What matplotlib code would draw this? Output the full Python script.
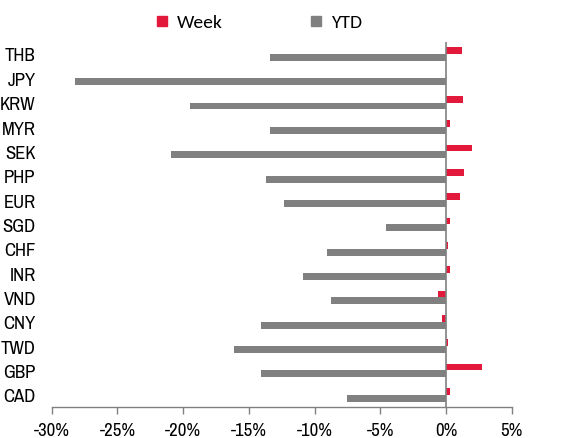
import matplotlib
matplotlib.use("Agg")
import matplotlib.pyplot as plt
import numpy as np
from matplotlib.lines import Line2D

categories = ["THB", "JPY", "KRW", "MYR", "SEK", "PHP", "EUR", "SGD",
              "CHF", "INR", "VND", "CNY", "TWD", "GBP", "CAD"]
week = [1.2, 0.0, 1.27, 0.3, 2.0, 1.34, 1.04, 0.3, 0.18, 0.28, -0.63, -0.3, 0.15, 2.73, 0.33]
ytd = [-13.4, -28.2, -19.5, -13.4, -20.9, -13.7, -12.35, -4.55, -9.04, -10.9,
       -8.73, -14.1, -16.1, -14.1, -7.54]
xticks = [-30, -25, -20, -15, -10, -5, 0, 5]
xticklabels = ["-30%", "-25%", "-20%", "-15%", "-10%", "-5%", "0%", "5%"]

RED = "#E3193B"
GRAY = "#808080"

fig = plt.figure(figsize=(5.82, 4.39), dpi=100)
ax = fig.add_axes([51.7 / 582, 1 - 408 / 439, (511.7 - 51.7) / 582, (408 - 42.8) / 439])

y = np.arange(len(categories))
h = 0.28
ax.barh(y - h / 2, week, height=h, color=RED, zorder=2)
ax.barh(y + h / 2, ytd, height=h, color=GRAY, zorder=2)

ax.set_ylim(len(categories) - 0.5, -0.5)
ax.set_xlim(-30, 5)
ax.axvline(0, color="#808080", lw=1.2, zorder=3)

narrow = ["Archivo Narrow", "PT Sans Narrow", "Liberation Sans", "DejaVu Sans"]
ax.set_yticks(y)
ax.set_yticklabels(categories, family=narrow, fontsize=13.5)
ax.set_xticks(xticks)
ax.set_xticklabels(xticklabels, family=narrow, fontsize=13.5)
ax.tick_params(axis="y", length=0, pad=11.5)
ax.tick_params(axis="x", direction="out", length=5, color="#808080", width=1, pad=6)

for s in ["top", "right", "left"]:
    ax.spines[s].set_visible(False)
ax.spines["bottom"].set_color("#808080")
ax.spines["bottom"].set_linewidth(1)

handles = [Line2D([], [], marker="s", linestyle="", color=RED, markersize=7),
           Line2D([], [], marker="s", linestyle="", color=GRAY, markersize=7)]
fig.legend(handles, ["Week", "YTD"], loc="center", bbox_to_anchor=(0.442, 1 - 23 / 439),
           ncol=2, frameon=False, columnspacing=4.3, handletextpad=0.25, handlelength=1.0,
           prop={"family": ["Carlito", "Open Sans", "DejaVu Sans"], "size": 14})

fig.savefig("out.png", dpi=100)
